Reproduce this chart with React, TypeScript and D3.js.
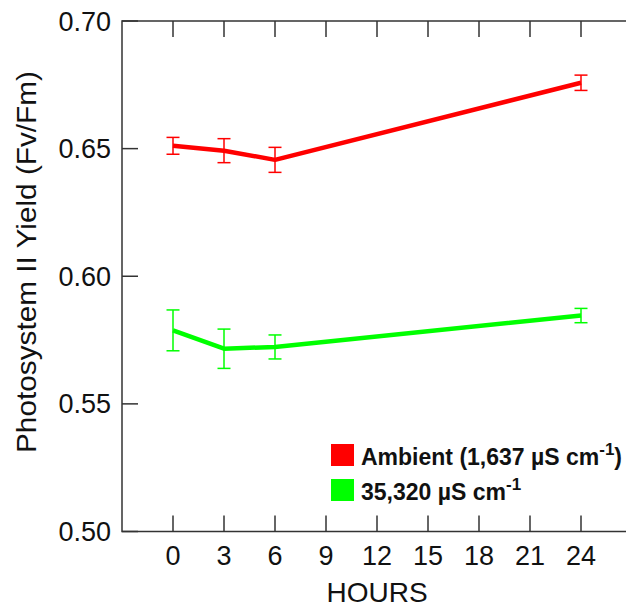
import React, { useRef, useEffect } from 'react';
import * as d3 from 'd3';

// Photosystem II yield over time, two conductivity treatments
const hours = [0, 3, 6, 24];
const ambientMean = [0.6511, 0.6492, 0.6456, 0.6758];
const ambientErr = [0.0033, 0.0047, 0.0049, 0.0030];
const salineMean = [0.5788, 0.5716, 0.5723, 0.5846];
const salineErr = [0.0080, 0.0077, 0.0047, 0.0028];

const hourTicks = [0, 3, 6, 9, 12, 15, 18, 21, 24];
const yieldTicks = [0.5, 0.55, 0.6, 0.65, 0.7];

const seriesNames = ['Ambient (1,637 µS cm', '35,320 µS cm'];
const seriesColors = ['#ff0000', '#00ff00'];

const WIDTH = 626;
const HEIGHT = 612;
const FONT = '"Liberation Sans", Arial, sans-serif';

const App = () => {
  const svgRef = useRef<SVGSVGElement | null>(null);

  useEffect(() => {
    if (!svgRef.current) return;
    const svg = d3.select(svgRef.current);
    svg.selectAll('*').remove();

    const left = 122, right = 632, top = 21, bottom = 531.5;
    const tick = 16;
    const axisColor = '#333';

    const x = d3.scaleLinear().domain([-3, 27]).range([left, right]);
    const y = d3.scaleLinear().domain([0.5, 0.7]).range([bottom, top]);

    // frame
    svg.append('rect')
      .attr('x', left).attr('y', top)
      .attr('width', right - left).attr('height', bottom - top)
      .attr('fill', 'none').attr('stroke', axisColor).attr('stroke-width', 1.5);

    // inward ticks, bottom and top
    const tickG = svg.append('g').attr('stroke', axisColor).attr('stroke-width', 1.5);
    hourTicks.forEach(h => {
      tickG.append('line').attr('x1', x(h)).attr('x2', x(h)).attr('y1', bottom).attr('y2', bottom - tick);
      tickG.append('line').attr('x1', x(h)).attr('x2', x(h)).attr('y1', top).attr('y2', top + tick);
    });
    yieldTicks.forEach(v => {
      tickG.append('line').attr('x1', left).attr('x2', left + tick).attr('y1', y(v)).attr('y2', y(v));
    });

    // tick labels
    svg.append('g')
      .selectAll('text')
      .data(hourTicks)
      .enter()
      .append('text')
      .attr('x', d => x(d))
      .attr('y', 565)
      .attr('text-anchor', 'middle')
      .style('font-family', FONT)
      .style('font-size', '27px')
      .attr('fill', '#111')
      .text(d => `${d}`);

    svg.append('g')
      .selectAll('text')
      .data(yieldTicks)
      .enter()
      .append('text')
      .attr('x', 111)
      .attr('y', d => y(d) + 9.5)
      .attr('text-anchor', 'end')
      .style('font-family', FONT)
      .style('font-size', '27px')
      .attr('fill', '#111')
      .text(d => d3.format('.2f')(d));

    // axis titles
    svg.append('text')
      .attr('x', x(12))
      .attr('y', 601.5)
      .attr('text-anchor', 'middle')
      .style('font-family', FONT)
      .style('font-size', '28px')
      .attr('fill', '#111')
      .text('HOURS');

    svg.append('text')
      .attr('transform', 'rotate(-90)')
      .attr('x', -262)
      .attr('y', 36)
      .attr('text-anchor', 'middle')
      .attr('textLength', 382)
      .attr('lengthAdjust', 'spacingAndGlyphs')
      .style('font-family', FONT)
      .style('font-size', '28px')
      .attr('fill', '#111')
      .text('Photosystem II Yield (Fv/Fm)');

    // series
    const series = [
      { mean: ambientMean, err: ambientErr, color: seriesColors[0] },
      { mean: salineMean, err: salineErr, color: seriesColors[1] },
    ];

    const line = d3.line<number>()
      .x((_, i) => x(hours[i]))
      .y(d => y(d));

    series.forEach(s => {
      const g = svg.append('g');
      s.mean.forEach((m, i) => {
        const cx = x(hours[i]);
        const y0 = y(m - s.err[i]);
        const y1 = y(m + s.err[i]);
        g.append('line').attr('x1', cx).attr('x2', cx).attr('y1', y0).attr('y2', y1)
          .attr('stroke', s.color).attr('stroke-width', 1.5);
        [y0, y1].forEach(yy => {
          g.append('line').attr('x1', cx - 6.5).attr('x2', cx + 6.5).attr('y1', yy).attr('y2', yy)
            .attr('stroke', s.color).attr('stroke-width', 1.5);
        });
      });
      g.append('path')
        .datum(s.mean)
        .attr('fill', 'none')
        .attr('stroke', s.color)
        .attr('stroke-width', 4.5)
        .attr('stroke-linejoin', 'round')
        .attr('d', line);
    });

    // legend
    const legend = svg.append('g').attr('transform', 'translate(331, 444)');
    seriesNames.forEach((name, i) => {
      const row = legend.append('g').attr('transform', `translate(0, ${i * 35})`);
      row.append('rect')
        .attr('width', 23).attr('height', 22)
        .attr('fill', seriesColors[i]);
      const t = row.append('text')
        .attr('x', 30)
        .attr('y', 21)
        .style('font-family', FONT)
        .style('font-size', '23px')
        .style('font-weight', 'bold')
        .attr('fill', '#111');
      t.append('tspan').text(name);
      t.append('tspan').attr('dy', -10).style('font-size', '17px').text('-1');
      if (i === 0) t.append('tspan').attr('dy', 10).text(')');
    });
  }, []);

  return (
    <svg
      ref={svgRef}
      width={WIDTH}
      height={HEIGHT}
      style={{ position: 'absolute', left: 0, top: 0, background: '#fff' }}
    />
  );
};

export default App;
